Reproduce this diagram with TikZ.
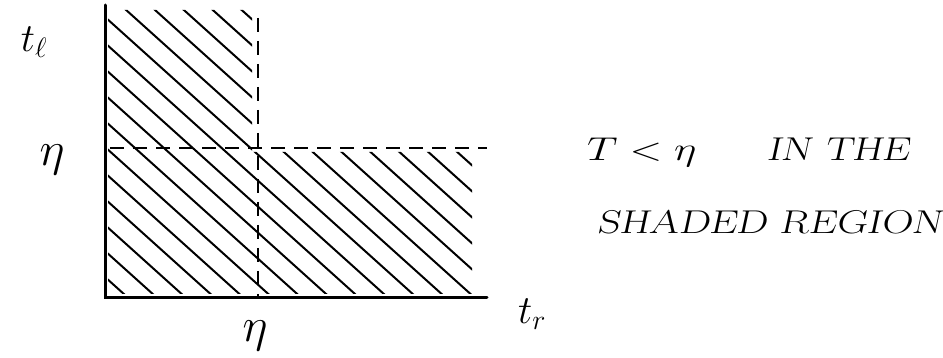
\RequirePackage{fix-cm}
\documentclass[tikz,border=0pt]{standalone}
\begin{document}
\begin{tikzpicture}[x=1pt,y=-1pt,
  axis/.style={line width=3pt,line cap=round},
  guide/.style={line width=2pt,dash pattern=on 14pt off 9pt},
  hatch/.style={line width=2pt,line cap=round},
  lab/.style={font=\fontsize{40}{46}\selectfont,inner sep=0pt},
  etalab/.style={font=\fontsize{48}{54}\selectfont,inner sep=0pt},
  note/.style={font=\fontsize{33}{38}\selectfont\slshape,inner sep=0pt,anchor=west}]
\useasboundingbox (0,0) rectangle (943,358);
% axes
\coordinate (ytop) at (105,5);
\coordinate (O) at (105,298);
\coordinate (xend) at (487,298);
\draw[axis] (ytop) -- (O) -- (xend);
% hatching of the shaded region
\begin{scope}
  \clip (108,10) -- (252,10) -- (252,152) -- (472,152) -- (472,294) -- (108,294) -- cycle;
  \foreach \c in {-165,-139,...,310}
    \draw[hatch] (100,{\c-4.5}) -- (500,{\c+355.5});
\end{scope}
% dashed guides
\coordinate (vtop) at (258,18);
\coordinate (vbot) at (258,296);
\draw[guide] (vtop) -- (vbot);
\coordinate (hl) at (110,148);
\coordinate (hr) at (487,148);
\draw[guide] (hl) -- (hr);
% labels
\node[lab] (tl) at (34,42) {$t_\ell$};
\node[etalab] (etay) at (52,160) {$\eta$};
\node[etalab] (etax) at (255,336) {$\eta$};
\node[lab] (tr) at (532,314) {$t_r$};
\node[note] (line1) at (587,152) {\scalebox{1.3}[1]{$T<\eta$\hspace{54pt}IN THE}};
\node[note] (line2) at (597,222) {\scalebox{1.3}[1]{SHADED REGION}};
\end{tikzpicture}
\end{document}
